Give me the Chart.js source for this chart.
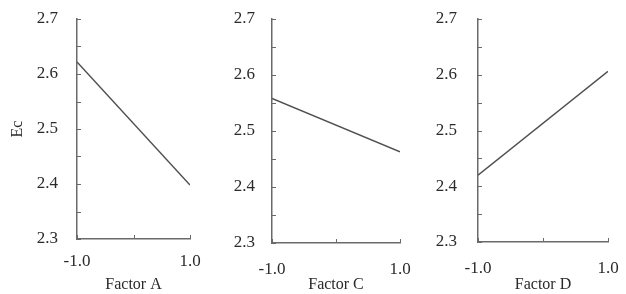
<!DOCTYPE html>
<html>
<head>
<meta charset="utf-8">
<script src="https://cdn.jsdelivr.net/npm/chart.js@4"></script>
<style>
  html, body { margin: 0; padding: 0; background: #fff; }
  body { width: 626px; height: 294px; position: relative; overflow: hidden; }
  .panel { position: absolute; top: 0; height: 294px; }
</style>
</head>
<body>
<div class="panel" id="p1" style="left:0;width:210px"><canvas id="chartA"></canvas></div>
<div class="panel" id="p2" style="left:205px;width:215px"><canvas id="chartC"></canvas></div>
<div class="panel" id="p3" style="left:415px;width:211px"><canvas id="chartD"></canvas></div>
<script>
// coded levels of each factor
const levels = [-1.0, 1.0];
const factorNames = ["Factor A", "Factor C", "Factor D"];
// mean Ec at the low and high level
const ecA = [2.622, 2.398];
const ecC = [2.558, 2.463];
const ecD = [2.420, 2.606];
const yMin = 2.3, yMax = 2.7;

const TEXT = "#2a2a2a";
const AXIS = "#6a6a6a";
const LINE = "#505050";
const SERIF = "'Liberation Serif', 'Times New Roman', serif";

// small tick marks drawn on the inside of both axes
const innerTicks = {
  id: "innerTicks",
  afterDraw(chart) {
    const { ctx, chartArea, scales } = chart;
    ctx.save();
    ctx.strokeStyle = AXIS;
    ctx.lineWidth = 1;
    scales.y.ticks.forEach(t => {
      const y = Math.round(scales.y.getPixelForValue(t.value)) + 0.5;
      ctx.beginPath();
      ctx.moveTo(chartArea.left, y);
      ctx.lineTo(chartArea.left + 4, y);
      ctx.stroke();
    });
    scales.x.ticks.forEach(t => {
      const x = Math.round(scales.x.getPixelForValue(t.value)) + 0.5;
      ctx.beginPath();
      ctx.moveTo(x, chartArea.bottom);
      ctx.lineTo(x, chartArea.bottom - 4);
      ctx.stroke();
    });
    ctx.restore();
  }
};

function makeChart(id, values, name, opt) {
  return new Chart(document.getElementById(id), {
    type: "line",
    data: {
      datasets: [{
        data: levels.map((x, i) => ({ x, y: values[i] })),
        borderColor: LINE,
        borderWidth: 1.5,
        pointRadius: 0,
        fill: false
      }]
    },
    options: {
      responsive: true,
      maintainAspectRatio: false,
      animation: false,
      layout: { padding: { left: 8, top: opt.top, right: opt.right, bottom: 0 } },
      plugins: { legend: { display: false }, tooltip: { enabled: false } },
      scales: {
        x: {
          type: "linear",
          min: -1,
          max: 1,
          afterFit: s => {
            s.height = opt.xh;
            s.paddingLeft = 0;
            s.paddingRight = 0;
          },
          grid: { display: false, drawTicks: false },
          border: { display: true, color: AXIS, width: 1.5 },
          ticks: {
            stepSize: 1,
            autoSkip: false,
            maxRotation: 0,
            padding: opt.xpad,
            color: TEXT,
            font: { family: SERIF, size: 17 },
            callback: v => (v === 0 ? "" : v.toFixed(1))
          },
          title: {
            display: true,
            text: name,
            color: TEXT,
            padding: 0,
            font: { family: SERIF, size: 16 }
          }
        },
        y: {
          min: yMin,
          max: yMax,
          afterFit: s => {
            s.width = opt.yw;
            s.paddingTop = 0;
            s.paddingBottom = 0;
          },
          grid: { display: false, drawTicks: false },
          border: { display: true, color: AXIS, width: 1.5 },
          ticks: {
            stepSize: 0.05,
            autoSkip: false,
            padding: opt.ypad,
            color: TEXT,
            font: { family: SERIF, size: 17 },
            callback: v => (Math.round(v * 100) % 10 === 0 ? v.toFixed(1) : "")
          },
          title: {
            display: opt.ytitle,
            text: "Ec",
            color: TEXT,
            padding: 0,
            font: { family: SERIF, size: 16 }
          }
        }
      }
    },
    plugins: [innerTicks]
  });
}

makeChart("chartA", ecA, factorNames[0], { top: 19, right: 20, yw: 69, xh: 55, xpad: 12, ypad: 19, ytitle: true });
makeChart("chartC", ecC, factorNames[1], { top: 19, right: 20, yw: 59, xh: 51, xpad: 16, ypad: 17, ytitle: false });
makeChart("chartD", ecD, factorNames[2], { top: 19, right: 18, yw: 55, xh: 52, xpad: 16, ypad: 21, ytitle: false });
</script>
</body>
</html>
